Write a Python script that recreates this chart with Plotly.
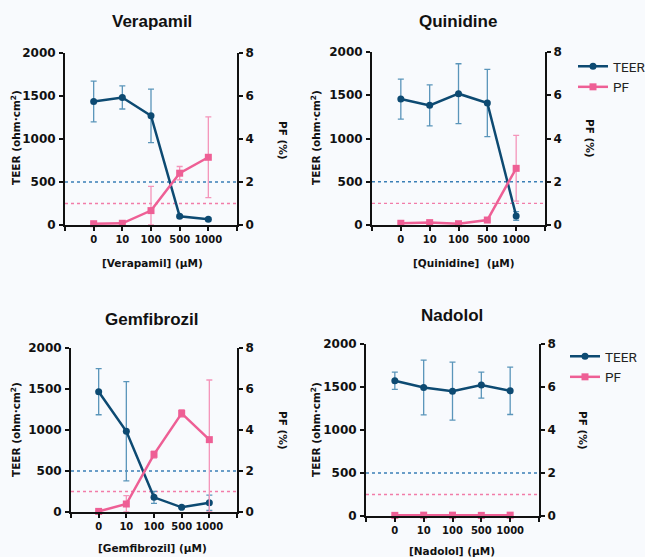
import plotly.graph_objects as go

# ---------------- data ----------------
conc = ["0", "10", "100", "500", "1000"]
drugs = ["Verapamil", "Quinidine", "Gemfibrozil", "Nadolol"]
xlabels = ["[Verapamil] (μM)", "[Quinidine]  (μM)", "[Gemfibrozil] (μM)", "[Nadolol] (μM)"]

verapamil_teer = [1437, 1483, 1270, 101, 66]
verapamil_teer_sd = [237, 134, 311, 15, 18]
verapamil_pf = [0.06, 0.08, 0.67, 2.41, 3.15]
verapamil_pf_up = [0.03, 0.03, 1.13, 0.31, 1.88]
verapamil_pf_down = [0.03, 0.03, 1.13, 0.31, 1.88]

quinidine_teer = [1456, 1383, 1518, 1410, 105]
quinidine_teer_sd = [231, 237, 346, 389, 50]
quinidine_pf = [0.08, 0.11, 0.06, 0.23, 2.62]
quinidine_pf_up = [0.03, 0.03, 0.02, 0.05, 1.52]
quinidine_pf_down = [0.03, 0.03, 0.02, 0.05, 1.52]

gemfibrozil_teer = [1467, 984, 179, 57, 114]
gemfibrozil_teer_sd = [281, 605, 73, 10, 93]
gemfibrozil_pf = [0.03, 0.39, 2.81, 4.81, 3.53]
gemfibrozil_pf_up = [0.02, 0.41, 0.16, 0.18, 2.91]
gemfibrozil_pf_down = [0.02, 0.39, 0.18, 0.18, 3.53]

nadolol_teer = [1573, 1495, 1452, 1522, 1456]
nadolol_teer_sd = [100, 318, 338, 152, 276]
nadolol_pf = [0.03, 0.04, 0.04, 0.03, 0.04]
nadolol_pf_up = [0.01, 0.01, 0.01, 0.01, 0.01]
nadolol_pf_down = [0.01, 0.01, 0.01, 0.01, 0.01]

teer_threshold = 500
pf_threshold = 1

teer_ticks = [0, 500, 1000, 1500, 2000]
pf_ticks = [0, 2, 4, 6, 8]

series = [
    (verapamil_teer, verapamil_teer_sd, verapamil_pf, verapamil_pf_up, verapamil_pf_down),
    (quinidine_teer, quinidine_teer_sd, quinidine_pf, quinidine_pf_up, quinidine_pf_down),
    (gemfibrozil_teer, gemfibrozil_teer_sd, gemfibrozil_pf, gemfibrozil_pf_up, gemfibrozil_pf_down),
    (nadolol_teer, nadolol_teer_sd, nadolol_pf, nadolol_pf_up, nadolol_pf_down),
]

# ---------------- layout geometry (pixels) ----------------
W, H = 645, 557
def fx(x): return x / W
def fy(y): return 1 - y / H

# plot boxes: left, right, top, bottom
boxes = [(65, 237, 53, 225), (372, 545, 52, 225), (71, 237, 348, 512), (366, 539, 344, 516)]
title_pos = [(152, 22), (458, 22), (152, 319), (452, 315)]
teer_title_pos = [(16, 138), (316, 138), (15, 430), (315, 430)]
pf_title_pos = [(283, 140), (590, 138), (283, 430), (583, 430)]
xtitle_pos = [(152, 263), (463, 263), (152, 548), (452, 551)]
legend_for_panel = {1: "legend", 3: "legend2"}

TEER_C = "#0d4a72"
TEER_ERR = "#5a95ba"
PF_C = "#ee5f95"
PF_ERR = "#f495ba"
BG = "#f8fafd"

BOLD = dict(family="DejaVu Sans", weight="bold", color="#111111")

fig = go.Figure()
xpos = list(range(len(conc)))
layout = {}
shapes = []
annotations = []

for i, (teer, teer_sd, pf, pf_up, pf_down) in enumerate(series):
    xn = "x" if i == 0 else f"x{i + 1}"
    yl = "y" if i == 0 else f"y{2 * i + 1}"
    yr = f"y{2 * i + 2}"
    leg = legend_for_panel.get(i)
    show = leg is not None

    teer_down = [min(s, v) for s, v in zip(teer_sd, teer)]
    pf_down_c = [min(s, v) for s, v in zip(pf_down, pf)]

    fig.add_trace(go.Scatter(
        x=xpos, y=pf, xaxis=xn, yaxis=yr, name="PF", mode="lines+markers",
        line=dict(color=PF_C, width=2.5),
        marker=dict(symbol="square", size=7, color=PF_C),
        error_y=dict(type="data", symmetric=False, array=pf_up, arrayminus=pf_down_c,
                     color=PF_ERR, thickness=1.3, width=3),
        cliponaxis=False, showlegend=show, legend=leg or "legend", legendgroup=f"pf{i}",
        legendrank=2,
    ))
    fig.add_trace(go.Scatter(
        x=xpos, y=teer, xaxis=xn, yaxis=yl, name="TEER", mode="lines+markers",
        line=dict(color=TEER_C, width=2.5),
        marker=dict(symbol="circle", size=7, color=TEER_C),
        error_y=dict(type="data", symmetric=False, array=teer_sd, arrayminus=teer_down,
                     color=TEER_ERR, thickness=1.3, width=3),
        cliponaxis=False, showlegend=show, legend=leg or "legend", legendgroup=f"teer{i}",
        legendrank=1,
    ))

    L, R, T, B = boxes[i]
    xkey = "xaxis" if i == 0 else f"xaxis{i + 1}"
    ylkey = "yaxis" if i == 0 else f"yaxis{2 * i + 1}"
    yrkey = f"yaxis{2 * i + 2}"

    layout[xkey] = dict(
        domain=[fx(L), fx(R)], anchor=yl, range=[-1, len(conc)],
        tickmode="array", tickvals=xpos, ticktext=conc, automargin=False,
        showline=True, linecolor="#111111", linewidth=2, ticks="outside",
        ticklen=4, tickwidth=2, tickcolor="#111111", showgrid=False, zeroline=False,
        tickfont=dict(size=10, **BOLD), fixedrange=True,
        minor=dict(tickmode="array", tickvals=[-1, len(conc)], ticks="outside",
                   ticklen=4, tickwidth=2, tickcolor="#111111", showgrid=False),
    )
    layout[ylkey] = dict(
        domain=[fy(B), fy(T)], anchor=xn, range=[0, 2000], tickmode="array",
        tickvals=teer_ticks, showline=True, linecolor="#111111", linewidth=2,
        ticks="outside", ticklen=4, tickwidth=2, tickcolor="#111111", automargin=False,
        showgrid=False, zeroline=False, tickfont=dict(size=12, **BOLD), side="left",
        ticklabelstandoff=1,
    )
    layout[yrkey] = dict(
        overlaying=yl, anchor=xn, side="right", range=[0, 8], tickmode="array",
        tickvals=pf_ticks, showline=True, linecolor="#111111", linewidth=2,
        ticks="outside", ticklen=4, tickwidth=2, tickcolor="#111111", automargin=False,
        showgrid=False, zeroline=False, tickfont=dict(size=12, **BOLD),
    )

    shapes.append(dict(type="line", xref=f"{xn} domain", x0=0, x1=1, yref=yl,
                       y0=teer_threshold, y1=teer_threshold, layer="below",
                       line=dict(color="#3a7fb6", width=1.3, dash="dot")))
    shapes.append(dict(type="line", xref=f"{xn} domain", x0=0, x1=1, yref=yr,
                       y0=pf_threshold, y1=pf_threshold, layer="below",
                       line=dict(color="#f27ca9", width=1.3, dash="dot")))

    tx, ty = title_pos[i]
    annotations.append(dict(text=drugs[i], x=fx(tx), y=fy(ty), xref="paper", yref="paper",
                            showarrow=False, xanchor="center", yanchor="middle",
                            font=dict(family="Liberation Sans", size=17, weight="bold", color="#111111")))
    ax_, ay_ = teer_title_pos[i]
    annotations.append(dict(text="TEER (ohm·cm<sup>2</sup>)", x=fx(ax_), y=fy(ay_),
                            xref="paper", yref="paper", showarrow=False, textangle=-90,
                            xanchor="center", yanchor="middle", font=dict(size=10.5, **BOLD)))
    px_, py_ = pf_title_pos[i]
    annotations.append(dict(text="PF (%)", x=fx(px_), y=fy(py_), xref="paper", yref="paper",
                            showarrow=False, textangle=90, xanchor="center", yanchor="middle",
                            font=dict(size=10.5, **BOLD)))
    xx, xy = xtitle_pos[i]
    annotations.append(dict(text=xlabels[i], x=fx(xx), y=fy(xy), xref="paper", yref="paper",
                            showarrow=False, xanchor="center", yanchor="middle",
                            font=dict(size=10.5, **BOLD)))

legend_style = dict(
    xanchor="left", yanchor="top", bgcolor="rgba(0,0,0,0)", borderwidth=0,
    font=dict(family="Roboto", size=13.5, color="#222222"),
    tracegroupgap=11, traceorder="normal", itemwidth=30,
)
layout["legend"] = dict(x=fx(573), y=fy(51), **legend_style)
layout["legend2"] = dict(x=fx(565), y=fy(341), **legend_style)

# width fixed in the layout; the height comes from the (absolutely positioned) div
fig.update_layout(
    width=W,
    margin=dict(l=0, r=0, t=0, b=0, autoexpand=False),
    paper_bgcolor=BG, plot_bgcolor=BG,
    shapes=shapes, annotations=annotations,
    **layout,
)

fig.write_html(
    "out.html",
    config={"displayModeBar": False},
    default_height=f"{H}px;position:absolute;left:0;top:0;margin:0",
    post_script=(
        "document.body.style.margin='0';"
        "document.body.style.background='" + BG + "';"
    ),
)
